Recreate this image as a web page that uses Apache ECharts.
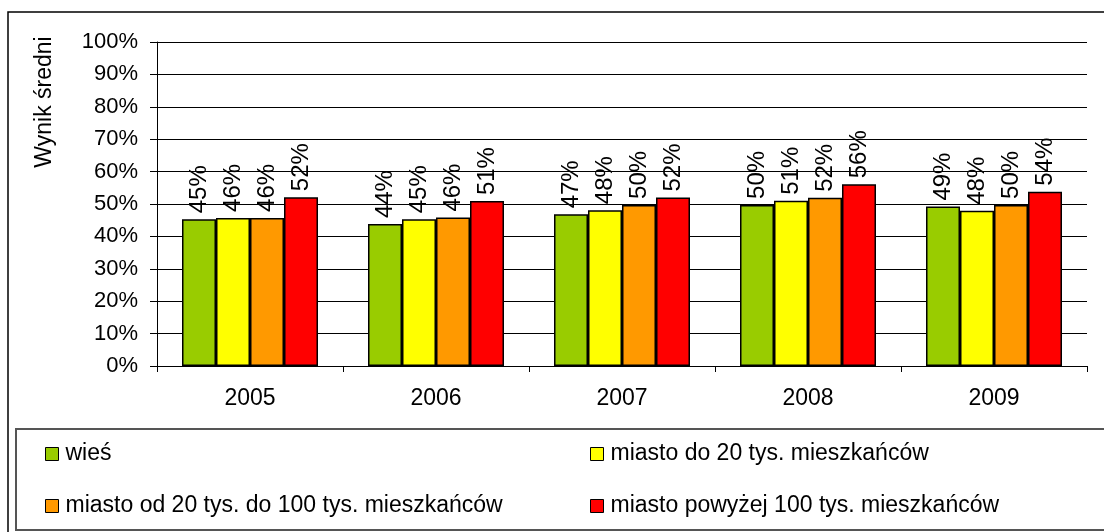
<!DOCTYPE html>
<html>
<head>
<meta charset="utf-8">
<script src="https://cdn.jsdelivr.net/npm/echarts@6/dist/echarts.min.js"></script>
<style>html,body{margin:0;padding:0;background:#fff}#c{width:1104px;height:532px}</style>
</head>
<body>
<div id="c"></div>
<script>
const years = ['2005', '2006', '2007', '2008', '2009'];
const seriesNames = ['wieś', 'miasto do 20 tys. mieszkańców', 'miasto od 20 tys. do 100 tys. mieszkańców', 'miasto powyżej 100 tys. mieszkańców'];
const wies = [45.3, 43.8, 46.8, 49.7, 49.2];
const miastoDo20 = [45.7, 45.3, 48.1, 51.0, 47.9];
const miasto20do100 = [45.7, 45.8, 49.7, 51.9, 49.7];
const miastoPow100 = [52.1, 50.9, 52.0, 56.1, 53.8];
const colors = ['#99CC00', '#FFFF00', '#FF9900', '#FF0000'];
const yTitle = 'Wynik średni';

const FONT = '"Liberation Sans", Arial, sans-serif';
const allData = [wies, miastoDo20, miasto20do100, miastoPow100];

const legendBase = {
  orient: 'vertical', top: 440, padding: 0,
  itemWidth: 13, itemHeight: 13, itemGap: 24,
  icon: 'rect',
  textStyle: {fontFamily: FONT, fontSize: 23, color: '#000', lineHeight: 28, padding: [0, 0, 0, 2]},
  itemStyle: {borderColor: '#000', borderWidth: 1}
};

const chart = echarts.init(document.getElementById('c'), null, {renderer: 'canvas'});
chart.setOption({
  animation: false,
  backgroundColor: '#fff',
  textStyle: {fontFamily: FONT, color: '#000'},
  grid: {left: 157, top: 42, right: 17, bottom: 166, containLabel: false},
  xAxis: {
    type: 'category',
    data: years,
    axisLine: {lineStyle: {color: '#000', width: 1}},
    axisTick: {show: true, length: 6, alignWithLabel: false, lineStyle: {color: '#000'}},
    axisLabel: {fontFamily: FONT, fontSize: 23, color: '#000', margin: 21}
  },
  yAxis: {
    type: 'value',
    min: 0, max: 100, interval: 10,
    axisLine: {show: true, lineStyle: {color: '#000', width: 1}},
    axisTick: {show: true, length: 7, lineStyle: {color: '#000'}},
    axisLabel: {fontFamily: FONT, fontSize: 22, color: '#000', margin: 19, formatter: '{value}%'},
    splitLine: {show: true, lineStyle: {color: '#000', width: 1}}
  },
  legend: [
    Object.assign({}, legendBase, {data: [seriesNames[0], seriesNames[2]], left: 45}),
    Object.assign({}, legendBase, {data: [seriesNames[1], seriesNames[3]], left: 590})
  ],
  graphic: [
    {type: 'rect', shape: {x: 8, y: 12, width: 1200, height: 600}, style: {fill: null, stroke: '#000', lineWidth: 1.5}, silent: true, z: -1},
    {type: 'rect', shape: {x: 16, y: 429, width: 1200, height: 101}, style: {fill: null, stroke: '#555', lineWidth: 2}, silent: true, z: -1},
    {type: 'text', x: 45, y: 102, rotation: Math.PI / 2,
     style: {text: yTitle, font: '23px ' + FONT, fill: '#000', textAlign: 'center', textVerticalAlign: 'middle'}, silent: true}
  ],
  series: seriesNames.map((name, i) => ({
    name: name,
    type: 'bar',
    data: allData[i],
    barWidth: 34,
    barGap: '0%',
    itemStyle: {color: colors[i], borderColor: '#000', borderWidth: 1.5},
    label: {
      show: true,
      position: 'top',
      rotate: 90,
      align: 'left',
      verticalAlign: 'middle',
      distance: 6,
      fontFamily: FONT,
      fontSize: 24,
      color: '#000',
      formatter: p => Math.round(p.value) + '%'
    }
  }))
});
</script>
</body>
</html>
